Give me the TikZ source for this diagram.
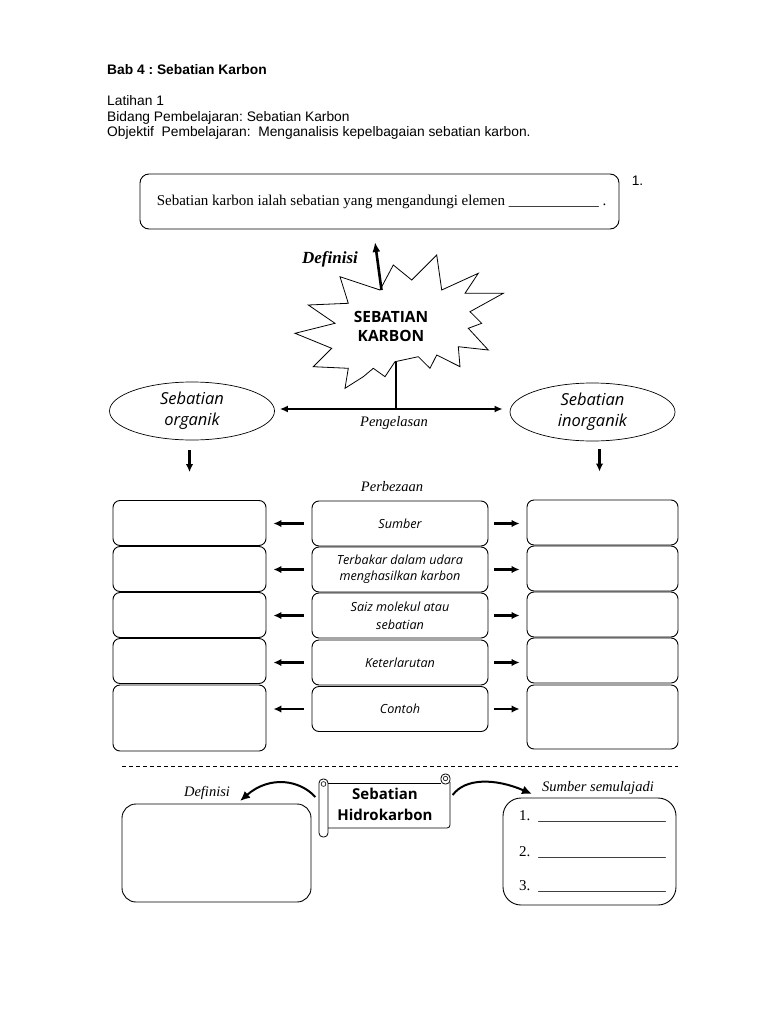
\documentclass[tikz,border=0pt]{standalone}
\usepackage{fontspec}
\setmainfont{Liberation Serif}
\newfontfamily\arialfont{Liberation Sans}
\newfontfamily\comicfont{Open Sans}
\usetikzlibrary{shapes.geometric,positioning,arrows.meta}
\frenchspacing
\newcommand{\Hd}{\arialfont\fontsize{13.8}{15.5}\selectfont}
\newcommand{\Tn}{\fontsize{15}{18}\selectfont}
\newcommand{\Cm}{\comicfont\itshape\fontsize{12.6}{16}\selectfont}
\newcommand{\Cb}{\comicfont\bfseries\fontsize{15.5}{19}\selectfont}
\newcommand{\Sc}{\itshape\fontsize{14.5}{16}\selectfont}
\newcommand{\blank}[1]{\foreach \u in {1,...,#1}{\_}}

\begin{document}
\begin{tikzpicture}[x=1pt,y=-1pt,
    box/.style={draw, line width=0.9pt, rounded corners=7pt, minimum width=153pt, minimum height=45pt},
    mid/.style={box, minimum width=176pt, align=center, font=\Cm},
    oval/.style={draw, ellipse, line width=0.7pt, minimum width=165pt, minimum height=58pt, inner sep=0pt, align=center,
      font=\comicfont\itshape\fontsize{16.5}{21}\selectfont},
    fat/.style={-{Latex[length=8pt,width=7.5pt]}, line width=2.4pt},
    lft/.style={fat, shorten <=8pt, shorten >=7pt},
    rgt/.style={fat, shorten <=6pt, shorten >=7pt}]
  \useasboundingbox (0,0) rectangle (768,1024);
  \fill[white] (0,0) rectangle (768,1024);

  % heading
  \node[anchor=base west, font=\Hd\bfseries, inner sep=0pt] (Bab) at (107,74.3) {Bab 4 : Sebatian Karbon};
  \node[anchor=base west, font=\Hd, inner sep=0pt] (Lat) at (107,106) {Latihan 1};
  \node[anchor=base west, font=\Hd, inner sep=0pt] (Bid) at (107,121.7) {Bidang Pembelajaran: Sebatian Karbon};
  \node[anchor=base west, font=\Hd, inner sep=0pt] (Obj) at (107,136.7) {Objektif\ \ Pembelajaran:\ \ Menganalisis kepelbagaian sebatian karbon.};
  \node[font=\Hd] (No1) at (637.5,180.5) {1.};

  % definition box and star
  \node[draw, line width=0.9pt, rounded corners=9pt, minimum width=479pt, minimum height=55pt, font=\Tn] (DT) at (379.5,201.5)
    {\hspace*{4pt}Sebatian karbon ialah sebatian yang mengandungi elemen \blank{12} .};
  \draw[line width=0.8pt, line join=miter] (340,276.7) -- (380,290) -- (393.3,265) -- (411.7,280) -- (436.7,255)
    -- (441.7,290) -- (478.3,273.3) -- (465,293.3) -- (503.3,293.3) -- (470,311.7) -- (481.7,323.3)
    -- (468.3,328.3) -- (488.3,350) -- (458.3,346.7) -- (460,366.7) -- (436.7,355) -- (430,368.3)
    -- (418.3,356.7) -- (395,361.7) -- (385,376.7) -- (373.3,368.3) -- (363.3,376.7) -- (345,388.3)
    -- (348.3,368.3) -- (313.3,366.7) -- (331.7,348.3) -- (295,333.3) -- (335,323.3) -- (308.3,305)
    -- (348.3,303.3) -- cycle;
  \node[align=center, font=\Cb] (SK) at (391,326) {SEBATIAN\\KARBON};
  \coordinate (SKtop) at (381.5,290);
  \coordinate (SKbot) at (396,362);
  \coordinate (Split) at (396,409);
  \draw[-{Latex[length=10pt,width=8pt]}, line width=2.6pt] (SKtop) -- (375,242);
  \node[font=\bfseries\itshape\fontsize{17}{18}\selectfont] (Def) at (330,259) {Definisi};

  % classification
  \node[oval] (Org) at (192,411) {Sebatian\\organik};
  \node[oval] (Inorg) at (592.5,412) {Sebatian\\inorganik};
  \draw[line width=2.4pt] (SKbot) -- (Split);
  \draw[{Latex[length=8pt,width=7pt]}-{Latex[length=8pt,width=7pt]}, line width=2pt,
    shorten <=5pt, shorten >=7pt] (Split -| Org.east) -- (Split -| Inorg.west);
  \node[font=\Sc] (Pen) at (394,423.5) {Pengelasan};

  % differences
  \node[font=\Sc] (Per) at (392,486.5) {Perbezaan};
  \node[box] (L1) at (189.5,523) {};
  \node[box] (L2) at (189.5,569) {};
  \node[box] (L3) at (189.5,615) {};
  \node[box] (L4) at (189.5,661) {};
  \node[box, minimum height=66pt] (L5) at (189.5,718) {};
  \node[mid] (M1) at (400,523.5) {Sumber};
  \node[mid] (M2) at (400,569.5) {Terbakar dalam udara\\menghasilkan karbon};
  \node[mid, font=\comicfont\itshape\fontsize{12.6}{18}\selectfont] (M3) at (400,615.5) {Saiz molekul atau\\sebatian};
  \node[mid] (M4) at (400,662.5) {Keterlarutan};
  \node[mid] (M5) at (400,709) {Contoh};
  \node[box, minimum width=151pt] (R1) at (602.5,522.5) {};
  \node[box, minimum width=151pt] (R2) at (602.5,568.5) {};
  \node[box, minimum width=151pt] (R3) at (602.5,614.5) {};
  \node[box, minimum width=151pt] (R4) at (602.5,660.5) {};
  \node[box, minimum width=151pt, minimum height=64pt] (R5) at (602.5,717) {};
  \draw[fat, shorten <=10pt, shorten >=28pt] (Org.south -| L1) -- (L1.north);
  \draw[fat, shorten <=8pt, shorten >=28pt] ([xshift=7pt]Inorg.south) -- ([xshift=7pt]Inorg.south |- R1.north);
  \draw[lft] (M1.west) -- (M1.west -| L1.east);
  \draw[lft] (M2.west) -- (M2.west -| L2.east);
  \draw[lft] (M3.west) -- (M3.west -| L3.east);
  \draw[lft] (M4.west) -- (M4.west -| L4.east);
  \draw[lft] (M5.west) -- (M5.west -| L5.east);
  \draw[rgt] (M1.east) -- (M1.east -| R1.west);
  \draw[rgt] (M2.east) -- (M2.east -| R2.west);
  \draw[rgt] (M3.east) -- (M3.east -| R3.west);
  \draw[rgt] (M4.east) -- (M4.east -| R4.west);
  \draw[rgt] (M5.east) -- (M5.east -| R5.west);

  % hydrocarbon
  \draw[line width=0.8pt, dash pattern=on 4pt off 3pt] (122,766) -- (678,766);
  \node[align=center, font=\comicfont\bfseries\fontsize{15}{21}\selectfont, minimum width=131pt, minimum height=62pt] (SH) at (385,804)
    {Sebatian\\Hidrokarbon};
  \draw[line width=0.8pt] (328,783) -- (441,783);
  \draw[line width=0.8pt, rounded corners=3pt] (450,782) -- (450,828) -- (328,828);
  \draw[line width=0.8pt, rounded corners=4pt] (319,779) rectangle (328,837);
  \draw[line width=0.6pt] (323.5,784) circle (2.4pt);
  \draw[line width=0.8pt, rounded corners=4pt] (441,774) rectangle (450,784);
  \draw[line width=0.6pt] (445.5,778.5) circle (2.2pt);
  \node[font=\Sc] (DL) at (207,793) {Definisi};
  \node[draw, line width=0.9pt, rounded corners=14pt, minimum width=189pt, minimum height=98pt] (DB) at (216.5,853) {};
  \node[font=\Sc] (SL) at (598,788) {Sumber semulajadi};
  \node[draw, line width=0.9pt, rounded corners=18pt, minimum width=173pt, minimum height=107pt] (SB) at (589.5,851.5) {};
  \coordinate (DefTip) at (240,801);
  \coordinate (SumTip) at (532,794);
  \draw[-{Latex[length=10pt,width=9pt]}, line width=2pt] ([shift={(-4pt,7pt)}]SH.west) .. controls (300,780) and (270,775) .. (DefTip);
  \draw[-{Latex[length=10pt,width=9pt]}, line width=2pt] ([shift={(2pt,9pt)}]SH.east) .. controls (465,778) and (495,778) .. (SumTip);
  \node[anchor=base west, font=\Tn, inner sep=0pt] (S1) at (519,820) {1.\hspace{8pt}\blank{17}};
  \node[anchor=base west, font=\Tn, inner sep=0pt] (S2) at (519,856) {2.\hspace{8pt}\blank{17}};
  \node[anchor=base west, font=\Tn, inner sep=0pt] (S3) at (519,890) {3.\hspace{8pt}\blank{17}};
\end{tikzpicture}
\end{document}
